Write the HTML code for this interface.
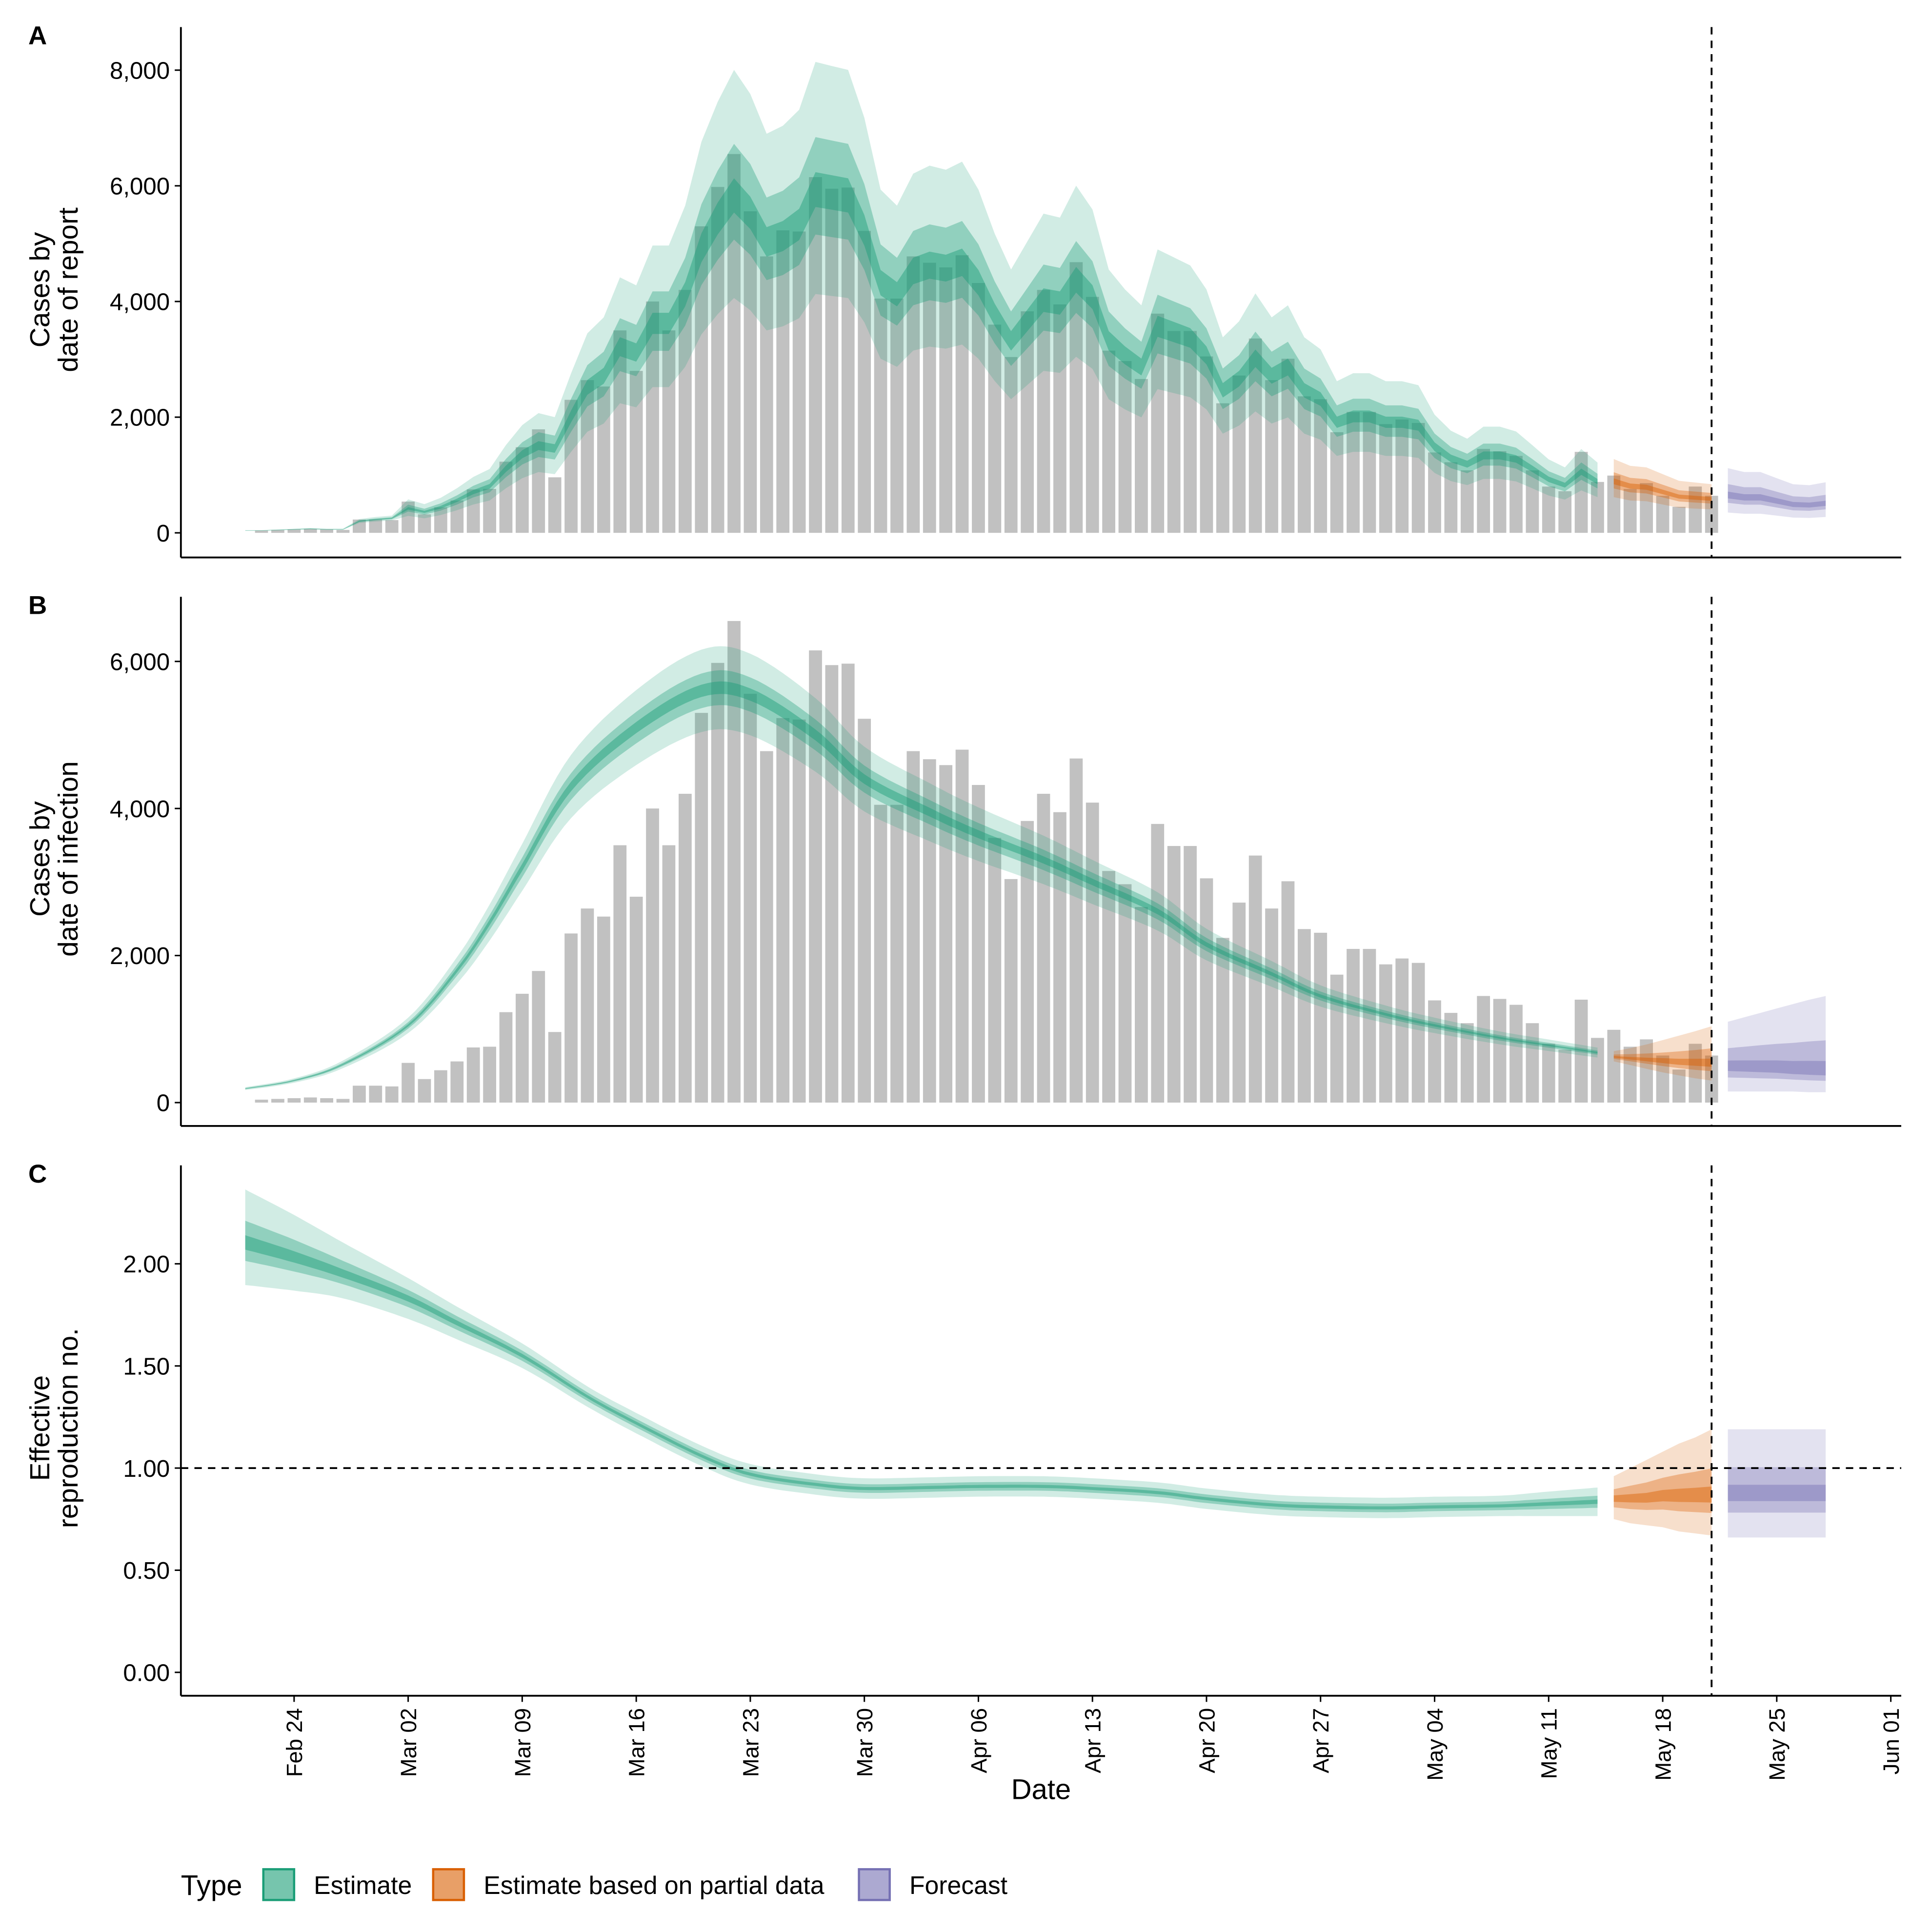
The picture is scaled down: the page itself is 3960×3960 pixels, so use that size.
<!DOCTYPE html>
<html><head><meta charset="utf-8"><style>
html,body{margin:0;padding:0;background:#fff;}
svg{display:block;font-family:"Liberation Sans",Arial,sans-serif;}
</style></head><body>
<svg id="chart" width="3960" height="3960" viewBox="0 0 1570 1570" xmlns="http://www.w3.org/2000/svg"></svg>
<script>
// ---------- DATA ----------
const barStartDay = -2;
const reportedCases = [40,50,60,70,60,50,230,230,220,540,320,440,560,750,760,1230,1480,1790,960,2300,2640,2530,3500,2800,4000,3500,4200,5300,5980,6550,5560,4780,5230,5210,6150,5950,5970,5220,4050,4050,4780,4670,4590,4800,4320,3600,3040,3830,4200,3950,4680,4080,3150,2970,2660,3790,3490,3490,3050,2240,2720,3360,2640,3010,2360,2310,1740,2090,2090,1880,1960,1900,1390,1220,1080,1450,1410,1330,1080,800,720,1400,880,990,760,860,640,450,800,640];
const estAStartDay = -3;
const estAMedian = [40,40,50,60,70,60,60,200,230,250,420,360,440,560,700,800,1100,1350,1500,1450,2000,2500,2700,3200,3100,3600,3600,4100,4900,5400,5800,5500,5000,5100,5300,5900,5850,5800,5200,4300,4100,4500,4600,4550,4650,4300,3750,3300,3650,4000,3950,4350,4050,3300,3050,2850,3550,3450,3350,3050,2450,2650,3000,2700,2850,2450,2300,1900,2000,2000,1900,1900,1850,1480,1280,1180,1330,1330,1270,1100,920,820,1050,880];
const partialADays = [81,82,83,84,85,86,87];
const partialAMedian = [880,800,780,700,620,600,580];
const forecastADays = [88,89,90,91,92,93,94];
const forecastAMedian = [640,600,600,540,480,470,500];

const estBDays = [-3,0,3,7,10,12,14,17,21,25,28,32,35,39,42,46,49,53,56,60,63,67,70,74,77,80];
const estBMedian = [190,300,520,1050,1800,2450,3200,4300,5100,5600,5550,5000,4400,3950,3650,3300,3000,2600,2150,1750,1450,1200,1050,880,780,680];
const partialBDays = [81,82,83,84,85,86,87];
const partialBMedian = [620,600,580,560,540,530,520];
const partialBLow90 = [560,510,460,410,370,330,300];
const partialBHigh90 = [700,740,790,850,910,970,1040];
const forecastBDays = [88,89,90,91,92,93,94];
const forecastBMedian = [480,470,460,450,430,420,410];
const forecastBLow90 = [150,150,150,150,150,140,140];
const forecastBHigh90 = [1100,1160,1220,1280,1340,1400,1450];

const estCDays = [-3,0,3,7,10,14,18,21,25,28,32,35,39,42,46,49,53,56,60,63,67,70,74,77,80];
const estCMedian = [2.10,2.03,1.95,1.83,1.71,1.55,1.35,1.22,1.06,0.97,0.92,0.90,0.905,0.91,0.91,0.90,0.88,0.85,0.82,0.81,0.805,0.81,0.815,0.825,0.835];
const estCHalf90 = [0.24,0.19,0.14,0.10,0.08,0.06,0.05,0.05,0.05,0.05,0.05,0.05,0.05,0.05,0.05,0.05,0.05,0.05,0.05,0.05,0.05,0.05,0.05,0.06,0.07];
const partialCDays = [81,82,83,84,85,86,87];
const partialCMedian = [0.85,0.85,0.85,0.86,0.86,0.86,0.86];
const partialCLow90 = [0.75,0.73,0.72,0.71,0.69,0.68,0.67];
const partialCHigh90 = [0.96,1.00,1.04,1.08,1.12,1.15,1.19];
const forecastCDays = [88,89,90,91,92,93,94];
const forecastCMedian = [0.87,0.87,0.87,0.87,0.87,0.87,0.87];
const forecastCLow90 = [0.66,0.66,0.66,0.66,0.66,0.66,0.66];
const forecastCHigh90 = [1.19,1.19,1.19,1.19,1.19,1.19,1.19];

const xTickLabels = ["Feb 24","Mar 02","Mar 09","Mar 16","Mar 23","Mar 30","Apr 06","Apr 13","Apr 20","Apr 27","May 04","May 11","May 18","May 25","Jun 01"];
const yTicksA = [0,2000,4000,6000,8000];
const yTicksB = [0,2000,4000,6000];
const yTicksC = [0,0.5,1,1.5,2];
const dataCutoffDay = 87;

// ---------- RENDER ----------
const NS="http://www.w3.org/2000/svg";
const svg=document.getElementById('chart');
function mk(tag,attrs,parent){const e=document.createElementNS(NS,tag);for(const k in attrs)e.setAttribute(k,attrs[k]);(parent||svg).appendChild(e);return e;}
const X0=147,X1=1545;
const xScale=d=>239+d*13.24;
const GREEN='#1b9e77',ORANGE='#d95f02',PURPLE='#7570b3';
const panels=[
 {key:'a',top:22,bot:453,y:v=>433-v*94/2000,ticks:yTicksA,fmt:v=>v.toLocaleString('en-US'),title:['Cases by','date of report'],letter:'A'},
 {key:'b',top:485,bot:915,y:v=>896-v*119.5/2000,ticks:yTicksB,fmt:v=>v.toLocaleString('en-US'),title:['Cases by','date of infection'],letter:'B'},
 {key:'c',top:947,bot:1378,y:v=>1359-v*166,ticks:yTicksC,fmt:v=>v.toFixed(2),title:['Effective','reproduction no.'],letter:'C'}
];
function spline(xs,ys,n){const out=[];for(let i=0;i<xs.length-1;i++){const p0=i>0?i-1:i,p3=i+2<xs.length?i+2:i+1;for(let k=0;k<n;k++){const t=k/n,t2=t*t,t3=t2*t;const f=(a,b,c,d)=>0.5*((2*b)+(-a+c)*t+(2*a-5*b+4*c-d)*t2+(-a+3*b-3*c+d)*t3);out.push([f(xs[p0],xs[i],xs[i+1],xs[p3]),f(ys[p0],ys[i],ys[i+1],ys[p3])]);}}out.push([xs[xs.length-1],ys[ys.length-1]]);return out;}
function ribbon(g,days,lo,hi,fill,op,name,smooth){
 const px=days.map(xScale);let up,dn;
 if(smooth){up=spline(px,hi,8);dn=spline(px,lo,8).reverse();}
 else{up=px.map((x,i)=>[x,hi[i]]);dn=px.map((x,i)=>[x,lo[i]]).reverse();}
 const p=mk('polygon',{points:up.concat(dn).map(q=>q[0].toFixed(1)+','+q[1].toFixed(1)).join(' '),fill:fill,'fill-opacity':op},g);
 
 
}
function bands(g,P,days,med,lo90,hi90,col,name,smooth){
 ribbon(g,days,lo90.map(P.y),hi90.map(P.y),col,0.2,name+'-90ci',smooth);
 ribbon(g,days,med.map((m,i)=>P.y(m-(m-lo90[i])*0.42)),med.map((m,i)=>P.y(m+(hi90[i]-m)*0.42)),col,0.35,name+'-50ci',smooth);
 ribbon(g,days,med.map((m,i)=>P.y(m-(m-lo90[i])*0.15)),med.map((m,i)=>P.y(m+(hi90[i]-m)*0.15)),col,0.45,name+'-20ci',smooth);
}
panels.forEach(P=>{
 const g=mk('g',{});
 
 
 if(P.key!=='c'){
  reportedCases.forEach((v,i)=>{const d=barStartDay+i;const r=mk('rect',{x:xScale(d)-5.3,y:P.y(v),width:10.6,height:P.y(0)-P.y(v),fill:'#a6a6a6','fill-opacity':0.7},g);
   
   });
 }
 if(P.key==='a'){
  const d=estAMedian.map((_,i)=>estAStartDay+i);
  const early=i=>i<10?0.5:1;
  bands(g,P,d,estAMedian,estAMedian.map((m,i)=>m*(1-0.3*early(i))),estAMedian.map((m,i)=>m*(1+0.38*early(i))),GREEN,'estimate-report',false);
  bands(g,P,partialADays,partialAMedian,partialAMedian.map(m=>m*0.7),partialAMedian.map(m=>m*1.45),ORANGE,'partial-report',false);
  bands(g,P,forecastADays,forecastAMedian,forecastAMedian.map(m=>m*0.55),forecastAMedian.map(m=>m*1.75),PURPLE,'forecast-report',false);
 } else if(P.key==='b'){
  bands(g,P,estBDays,estBMedian,estBMedian.map(m=>m*0.9),estBMedian.map(m=>m*1.1),GREEN,'estimate-infection',true);
  bands(g,P,partialBDays,partialBMedian,partialBLow90,partialBHigh90,ORANGE,'partial-infection',false);
  bands(g,P,forecastBDays,forecastBMedian,forecastBLow90,forecastBHigh90,PURPLE,'forecast-infection',false);
 } else {
  bands(g,P,estCDays,estCMedian,estCMedian.map((m,i)=>m-estCHalf90[i]*(i<3?0.85:1)),estCMedian.map((m,i)=>m+estCHalf90[i]*(i<3?1.1:1)),GREEN,'estimate-r',true);
  bands(g,P,partialCDays,partialCMedian,partialCLow90,partialCHigh90,ORANGE,'partial-r',false);
  bands(g,P,forecastCDays,forecastCMedian,forecastCLow90,forecastCHigh90,PURPLE,'forecast-r',false);
  const h=mk('line',{x1:X0,x2:X1,y1:P.y(1),y2:P.y(1),stroke:'#000','stroke-width':1.5,'stroke-dasharray':'6,5'},g);
  
  
 }
 const v=mk('line',{x1:xScale(dataCutoffDay),x2:xScale(dataCutoffDay),y1:P.top,y2:P.bot,stroke:'#000','stroke-width':1.5,'stroke-dasharray':'6,5'},g);
 
 
 const ya=mk('line',{x1:X0,x2:X0,y1:P.top,y2:P.bot,stroke:'#000','stroke-width':1.5},g);
 
 
 const xa=mk('line',{x1:X0,x2:X1,y1:P.bot,y2:P.bot,stroke:'#000','stroke-width':1.5},g);
 
 
 P.ticks.forEach(t=>{const y=P.y(t);mk('line',{x1:X0-5,x2:X0,y1:y,y2:y,stroke:'#000','stroke-width':1.2},g);
  const tx=mk('text',{x:X0-9,y:y+7,'text-anchor':'end','font-size':19.5,fill:'#000'},g);tx.textContent=P.fmt(t);
  
  });
 const cy=(P.top+P.bot)/2;
 const tt=mk('text',{transform:`translate(40,${cy-2}) rotate(-90)`,'text-anchor':'middle','font-size':22.5,fill:'#000'},g);
 mk('tspan',{x:0,dy:0},tt).textContent=P.title[0];
 mk('tspan',{x:0,dy:23},tt).textContent=P.title[1];
 
 
 const L=mk('text',{x:23,y:P.top+14,'font-size':21,'font-weight':'bold',fill:'#000'},g);L.textContent=P.letter;
 
 
});
xTickLabels.forEach((lab,i)=>{const x=xScale(i*7);
 mk('line',{x1:x,x2:x,y1:1378,y2:1383,stroke:'#000','stroke-width':1.2});
 const t=mk('text',{transform:`translate(${x+6.5},1388) rotate(-90)`,'text-anchor':'end','font-size':18,fill:'#000'});t.textContent=lab;
 
 });
const xt=mk('text',{x:846,y:1462,'text-anchor':'middle','font-size':23,fill:'#000'});xt.textContent='Date';


const lg=mk('g',{});


const lt=mk('text',{x:147,y:1540,'font-size':23,fill:'#000'},lg);lt.textContent='Type';
[['Estimate',GREEN,214,255],['Estimate based on partial data',ORANGE,352,393],['Forecast',PURPLE,698,739]].forEach(([n,c,x,tx])=>{
 const r=mk('rect',{x:x,y:1519,width:25,height:25,fill:c,'fill-opacity':0.6,stroke:c,'stroke-width':1.8},lg);
 
 
 const t=mk('text',{x:tx,y:1539,'font-size':20.5,fill:'#000'},lg);t.textContent=n;
 
 
});
</script>
</body></html>
